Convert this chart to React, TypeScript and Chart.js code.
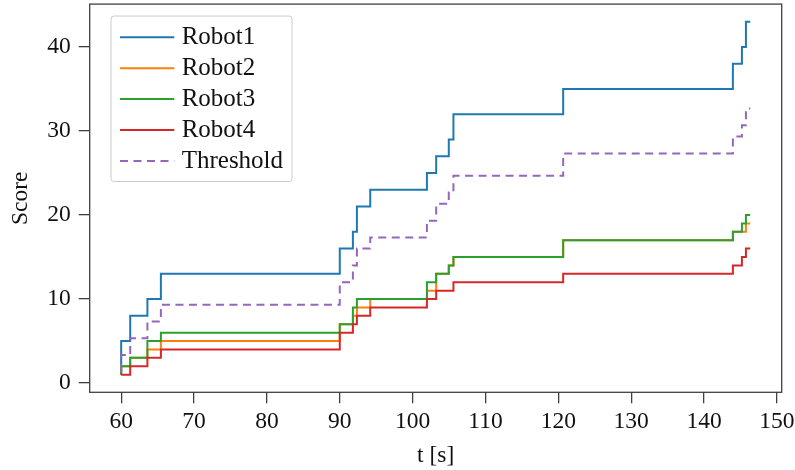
import React, { useEffect, useRef } from "react";
import { Chart, registerables } from "chart.js";

Chart.register(...registerables);

// Event times (s): each value below holds on the interval ending at that time
const changeTimes = [60, 61.24, 63.6, 65.45, 90, 91.8, 92.35, 94.18, 101.96, 103.23, 104.96, 105.6, 120.66, 143.95, 145.19, 145.74, 146.33];
const robot1 = [1, 5, 8, 10, 13, 16, 18, 21, 23, 25, 27, 29, 32, 35, 38, 40, 43];
const robot2 = [1, 2, 3, 4, 5, 7, 8, 9, 10, 11, 13, 14, 15, 17, 18, 18, 19];
const robot3 = [1, 2, 3, 5, 6, 7, 9, 10, 10, 12, 13, 14, 15, 17, 18, 19, 20];
const robot4 = [1, 1, 2, 3, 4, 6, 7, 8, 9, 10, 11, 11, 12, 13, 14, 15, 16];
const threshold = [1.33, 3.33, 5.33, 7.33, 9.33, 12, 14, 16, 17.33, 19.33, 21.33, 22.67, 24.67, 27.33, 29.33, 30.67, 32.67];

const seriesNames = ["Robot1", "Robot2", "Robot3", "Robot4", "Threshold"];
const seriesColors = ["#1f77b4", "#ff7f0e", "#2ca02c", "#d62728", "#9467bd"];
const xTickValues = [60, 70, 80, 90, 100, 110, 120, 130, 140, 150];
const yTickValues = [0, 10, 20, 30, 40];
const xTitle = "t [s]";
const yTitle = "Score";

const FONT = "'Liberation Serif', 'Times New Roman', serif";
const AXIS_COLOR = "#404040";
const DASH = [8, 5.5];

const frameAndLegend = {
  id: "frameAndLegend",
  afterDraw(chart: any) {
    const { ctx, chartArea } = chart;
    ctx.save();
    ctx.strokeStyle = AXIS_COLOR;
    ctx.lineWidth = 1.3;
    ctx.strokeRect(chartArea.left, chartArea.top, chartArea.right - chartArea.left, chartArea.bottom - chartArea.top);

    // legend box
    const bx = 111, by = 16, bw = 181, bh = 165.5, r = 3;
    ctx.beginPath();
    ctx.moveTo(bx + r, by);
    ctx.lineTo(bx + bw - r, by);
    ctx.quadraticCurveTo(bx + bw, by, bx + bw, by + r);
    ctx.lineTo(bx + bw, by + bh - r);
    ctx.quadraticCurveTo(bx + bw, by + bh, bx + bw - r, by + bh);
    ctx.lineTo(bx + r, by + bh);
    ctx.quadraticCurveTo(bx, by + bh, bx, by + bh - r);
    ctx.lineTo(bx, by + r);
    ctx.quadraticCurveTo(bx, by, bx + r, by);
    ctx.closePath();
    ctx.fillStyle = "rgba(255,255,255,0.8)";
    ctx.fill();
    ctx.strokeStyle = "#cccccc";
    ctx.lineWidth = 1;
    ctx.stroke();

    chart.data.datasets.forEach((ds: any, i: number) => {
      const y = 37.3 + 30.9 * i;
      ctx.beginPath();
      ctx.strokeStyle = ds.borderColor;
      ctx.lineWidth = 2;
      ctx.setLineDash(ds.borderDash || []);
      ctx.moveTo(120, y);
      ctx.lineTo(174.3, y);
      ctx.stroke();
      ctx.setLineDash([]);
      ctx.fillStyle = "#111";
      ctx.font = `25px ${FONT}`;
      ctx.textBaseline = "alphabetic";
      ctx.textAlign = "left";
      ctx.fillText(ds.label, 181.7, y + 7);
    });
    ctx.restore();
  },
};

export default function App() {
  const ref = useRef<HTMLCanvasElement | null>(null);

  useEffect(() => {
    if (!ref.current) return;
    const all = [robot1, robot2, robot3, robot4, threshold];
    const datasets = all.map((vals, i) => ({
      label: seriesNames[i],
      data: vals.map((v, k) => ({ x: changeTimes[k], y: v })),
      borderColor: seriesColors[i],
      backgroundColor: seriesColors[i],
      borderWidth: 2,
      borderDash: i === 4 ? DASH : [],
      pointRadius: 0,
      stepped: "after" as const,
      fill: false,
      order: all.length - 1 - i,
    }));

    const tickFont = { family: FONT, size: 23.5 };
    const chart = new Chart(ref.current, {
      type: "line",
      data: { datasets },
      plugins: [frameAndLegend],
      options: {
        animation: false,
        responsive: true,
        maintainAspectRatio: false,
        layout: { padding: { top: 4.1, right: 13.3, left: 0, bottom: 0 } },
        plugins: { legend: { display: false }, tooltip: { enabled: false } },
        scales: {
          x: {
            type: "linear",
            min: 55.68,
            max: 150.65,
            afterBuildTicks: (s: any) => {
              s.ticks = xTickValues.map((v) => ({ value: v }));
            },
            afterFit: (s: any) => {
              s.height = 470 - 392.3;
              s.paddingLeft = 0;
              s.paddingRight = 0;
              s.paddingTop = 0;
              s.paddingBottom = 0;
            },
            grid: { display: true, drawOnChartArea: false, drawTicks: true, tickLength: 11, color: AXIS_COLOR, lineWidth: 1.3 },
            border: { display: false },
            ticks: { color: "#111", font: tickFont, padding: 4, maxRotation: 0, autoSkip: false },
            title: { display: true, text: xTitle, color: "#111", font: { family: FONT, size: 23.5, lineHeight: 1.2 }, padding: { top: 0, bottom: 0 } },
          },
          y: {
            type: "linear",
            min: -1.1,
            max: 45.1,
            afterBuildTicks: (s: any) => {
              s.ticks = yTickValues.map((v) => ({ value: v }));
            },
            afterFit: (s: any) => {
              s.width = 89.7;
              s.paddingLeft = 0;
              s.paddingRight = 0;
              s.paddingTop = 0;
              s.paddingBottom = 0;
            },
            grid: { display: true, drawOnChartArea: false, drawTicks: true, tickLength: 11, color: AXIS_COLOR, lineWidth: 1.3 },
            border: { display: false },
            ticks: { color: "#111", font: tickFont, padding: 8, autoSkip: false },
            title: { display: true, text: yTitle, color: "#111", font: { family: FONT, size: 23.5, lineHeight: 1.2 }, padding: { top: 7, bottom: 0 } },
          },
        },
      },
    });
    return () => chart.destroy();
  }, []);

  return (
    <div style={{ position: "fixed", left: 0, top: 0, width: 795, height: 470, background: "#fff" }}>
      <canvas ref={ref} />
    </div>
  );
}
